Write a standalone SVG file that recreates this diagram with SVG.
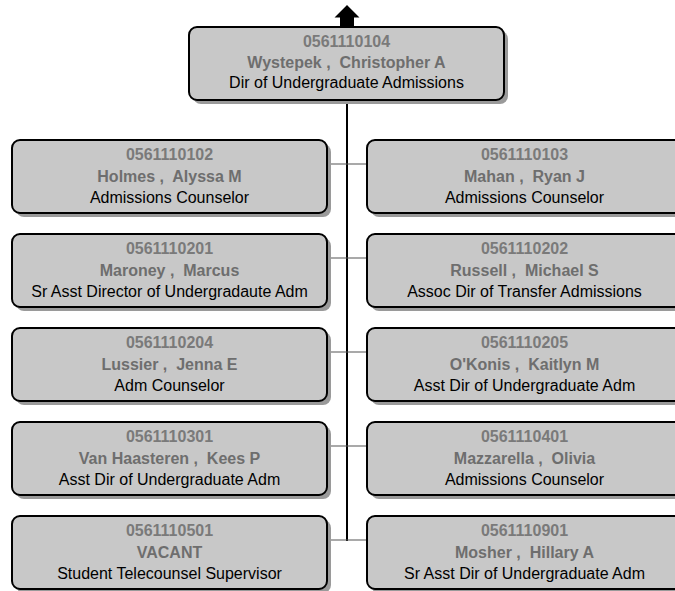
<svg xmlns="http://www.w3.org/2000/svg" width="675" height="591" viewBox="0 0 675 591">
  <style>
    text { white-space: pre; }
    .shadow { fill: #9a9a9a; }
    .box { fill: #c8c8c8; stroke: #000; stroke-width: 2; }
    .id { font: bold 16px "Liberation Sans", Arial, sans-serif; fill: #7a7a7a; text-anchor: middle; }
    .nm { font: bold 16px "Liberation Sans", Arial, sans-serif; fill: #6e6e6e; text-anchor: middle; }
    .tt { font: 16px "Liberation Sans", Arial, sans-serif; fill: #000; text-anchor: middle; }
    .trunk { stroke: #000; stroke-width: 2; fill: none; }
    .branch { stroke: #555; stroke-width: 1.2; fill: none; }
  </style>
  <defs>
    <g id="card">
      <rect class="shadow" x="4" y="4" width="315" height="73" rx="8"/>
      <rect class="box" x="0" y="0" width="315" height="73" rx="8"/>
    </g>
  </defs>
  <rect width="675" height="591" fill="#fff"/>

  <!-- connectors -->
  <g id="connectors">
    <path class="trunk" d="M347 100 V541"/>
    <path class="branch" d="M327 164 H367 M327 258 H367 M327 352 H367 M327 446 H367 M327 540 H367"/>
  </g>

  <!-- upward arrow above the head node -->
  <g id="up-arrow">
    <polygon points="347,5 359.5,17.5 354,17.5 354,27 340,27 340,17.5 334.5,17.5" fill="#000"/>
  </g>

  <g id="n0561110104" transform="translate(189,27)">
    <rect class="shadow" x="4" y="4" width="315" height="73" rx="8"/>
    <rect class="box" x="0" y="0" width="315" height="73" rx="8"/>
    <text class="id" x="157.5" y="20">0561110104</text>
    <text class="nm" x="157.5" y="40.5">Wystepek ,  Christopher A</text>
    <text class="tt" x="157.5" y="61">Dir of Undergraduate Admissions</text>
  </g>

  <g id="n0561110102" transform="translate(12,140)">
    <use href="#card"/>
    <text class="id" x="157.5" y="20">0561110102</text>
    <text class="nm" x="157.5" y="41.5">Holmes ,  Alyssa M</text>
    <text class="tt" x="157.5" y="63">Admissions Counselor</text>
  </g>
  <g id="n0561110103" transform="translate(367,140)">
    <use href="#card"/>
    <text class="id" x="157.5" y="20">0561110103</text>
    <text class="nm" x="157.5" y="41.5">Mahan ,  Ryan J</text>
    <text class="tt" x="157.5" y="63">Admissions Counselor</text>
  </g>

  <g id="n0561110201" transform="translate(12,234)">
    <use href="#card"/>
    <text class="id" x="157.5" y="20">0561110201</text>
    <text class="nm" x="157.5" y="41.5">Maroney ,  Marcus</text>
    <text class="tt" x="157.5" y="63">Sr Asst Director of Undergradaute Adm</text>
  </g>
  <g id="n0561110202" transform="translate(367,234)">
    <use href="#card"/>
    <text class="id" x="157.5" y="20">0561110202</text>
    <text class="nm" x="157.5" y="41.5">Russell ,  Michael S</text>
    <text class="tt" x="157.5" y="63">Assoc Dir of Transfer Admissions</text>
  </g>

  <g id="n0561110204" transform="translate(12,328)">
    <use href="#card"/>
    <text class="id" x="157.5" y="20">0561110204</text>
    <text class="nm" x="157.5" y="41.5">Lussier ,  Jenna E</text>
    <text class="tt" x="157.5" y="63">Adm Counselor</text>
  </g>
  <g id="n0561110205" transform="translate(367,328)">
    <use href="#card"/>
    <text class="id" x="157.5" y="20">0561110205</text>
    <text class="nm" x="157.5" y="41.5">O'Konis ,  Kaitlyn M</text>
    <text class="tt" x="157.5" y="63">Asst Dir of Undergraduate Adm</text>
  </g>

  <g id="n0561110301" transform="translate(12,422)">
    <use href="#card"/>
    <text class="id" x="157.5" y="20">0561110301</text>
    <text class="nm" x="157.5" y="41.5">Van Haasteren ,  Kees P</text>
    <text class="tt" x="157.5" y="63">Asst Dir of Undergraduate Adm</text>
  </g>
  <g id="n0561110401" transform="translate(367,422)">
    <use href="#card"/>
    <text class="id" x="157.5" y="20">0561110401</text>
    <text class="nm" x="157.5" y="41.5">Mazzarella ,  Olivia</text>
    <text class="tt" x="157.5" y="63">Admissions Counselor</text>
  </g>

  <g id="n0561110501" transform="translate(12,516)">
    <use href="#card"/>
    <text class="id" x="157.5" y="20">0561110501</text>
    <text class="nm" x="157.5" y="41.5">VACANT</text>
    <text class="tt" x="157.5" y="63">Student Telecounsel Supervisor</text>
  </g>
  <g id="n0561110901" transform="translate(367,516)">
    <use href="#card"/>
    <text class="id" x="157.5" y="20">0561110901</text>
    <text class="nm" x="157.5" y="41.5">Mosher ,  Hillary A</text>
    <text class="tt" x="157.5" y="63">Sr Asst Dir of Undergraduate Adm</text>
  </g>
</svg>
